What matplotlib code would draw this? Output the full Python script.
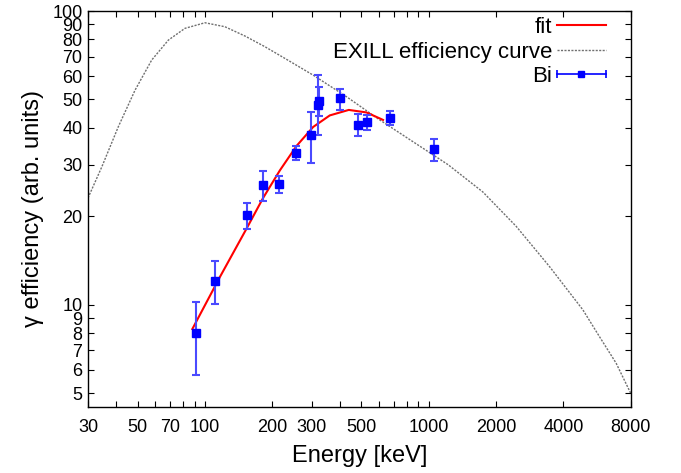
import matplotlib
matplotlib.use('Agg')
import matplotlib.pyplot as plt
from matplotlib.lines import Line2D
from matplotlib.legend_handler import HandlerLine2D
from matplotlib.ticker import NullLocator
import numpy as np

plt.rcParams['font.family'] = ['Liberation Sans', 'DejaVu Sans']

# --- data ---
energy = [91.4, 111.2, 154.5, 182.0, 214.8, 254.7, 299.3, 320.6, 323.7, 401.8, 483.0, 530.5, 671.0, 1056.0]
eff = [8.03, 12.04, 20.2, 25.5, 25.7, 32.8, 37.8, 47.8, 49.3, 50.5, 40.8, 41.8, 43.2, 33.9]
eff_low = [5.75, 10.08, 18.1, 22.5, 24.0, 31.0, 30.3, 37.7, 44.0, 46.1, 37.4, 39.3, 40.8, 30.9]
eff_high = [10.2, 14.08, 22.2, 28.5, 27.5, 34.7, 45.2, 60.6, 55.0, 54.3, 44.5, 44.4, 45.8, 36.6]

fit_x = [87.8, 116.7, 154.5, 182.0, 216.2, 256.7, 304.5, 361.4, 439.4, 527.1, 625.2]
fit_y = [8.27, 12.45, 18.35, 23.12, 28.68, 34.74, 40.3, 44.12, 46.06, 45.16, 42.59]

exill_x = [30, 34.6, 41.0, 48.7, 57.8, 68.6, 81.4, 100, 122.8, 150.9, 185.3, 227.5,
           304.5, 429, 604, 851, 1220, 1748, 2461, 3467, 4887, 5796, 6885, 8000]
exill_y = [23.1, 29.5, 40.4, 53.8, 68.1, 79.6, 87.3, 91.2, 88.4, 82.2, 75.6, 69.0,
           60.5, 51.1, 42.6, 35.9, 30.0, 24.2, 18.5, 13.5, 9.62, 7.80, 6.33, 5.0]

xtick_pos = [30, 40, 50, 60, 70, 80, 90, 100, 200, 300, 400, 500, 600, 700, 800, 900,
             1000, 2000, 4000, 8000]
xtick_labels = ['30', '', '50', '', '70', '', '', '100', '200', '300', '', '500', '', '', '', '',
                '1000', '2000', '4000', '8000']
ytick_pos = [5, 6, 7, 8, 9, 10, 20, 30, 40, 50, 60, 70, 80, 90, 100]
ytick_labels = ['5', '6', '7', '8', '9', '10', '20', '30', '40', '50', '60', '70', '80', '90', '100']

fig = plt.figure(figsize=(6.81, 4.73), dpi=100)
ax = fig.add_axes([88 / 681, 1 - 406.7 / 473, (630.7 - 88) / 681, (406.7 - 11) / 473])
ax.set_xscale('log')
ax.set_yscale('log')

eff_arr = np.array(eff)
yerr = [eff_arr - np.array(eff_low), np.array(eff_high) - eff_arr]

ax.plot(fit_x, fit_y, color='red', lw=1.5, zorder=3)
ax.plot(exill_x, exill_y, color='#707070', lw=1.0, ls=(0, (1.5, 1.0)), zorder=2)
ax.errorbar(energy, eff, yerr=yerr, fmt='s', color='#0000ff', ms=5.5,
            ecolor='#4a4aff', elinewidth=1.5, capsize=3, capthick=1.5, zorder=4)

ax.set_xlim(30, 8000)
ax.set_ylim(4.5, 100)
ax.set_xticks(xtick_pos, labels=xtick_labels)
ax.set_yticks(ytick_pos, labels=ytick_labels)
ax.xaxis.set_minor_locator(NullLocator())
ax.yaxis.set_minor_locator(NullLocator())
ax.tick_params(which='both', direction='in', top=True, right=True, length=4, width=0.8,
               labelsize=13)
ax.tick_params(axis='x', pad=9)
ax.tick_params(axis='y', pad=4)
for s in ax.spines.values():
    s.set_linewidth(1.0)

ax.set_xlabel('Energy [keV]', fontsize=17, labelpad=6)
ax.set_ylabel('γ efficiency (arb. units)', fontsize=17, labelpad=6)

h_fit = Line2D([], [], color='red', lw=1.5)
h_ex = Line2D([], [], color='#707070', lw=1.0, ls=(0, (1.5, 1.0)))
h_bi = Line2D([], [], color='#0000ff', lw=1.2, marker='s', ms=5)
h_caps = Line2D([], [], color='#0000ff', ls='none', marker='|', ms=6, mew=1.2)
ax.legend([h_fit, h_ex, (h_bi, h_caps)], ['fit', 'EXILL efficiency curve', 'Bi'],
          handler_map={h_caps: HandlerLine2D(numpoints=2, marker_pad=0.0)},
          loc='upper right', bbox_to_anchor=(0.958, 0.99), frameon=False,
          markerfirst=False, fontsize=16, handlelength=2.2, handletextpad=0.2,
          labelspacing=0.15, borderaxespad=0, borderpad=0.1)

fig.savefig('out.png', dpi=100)
